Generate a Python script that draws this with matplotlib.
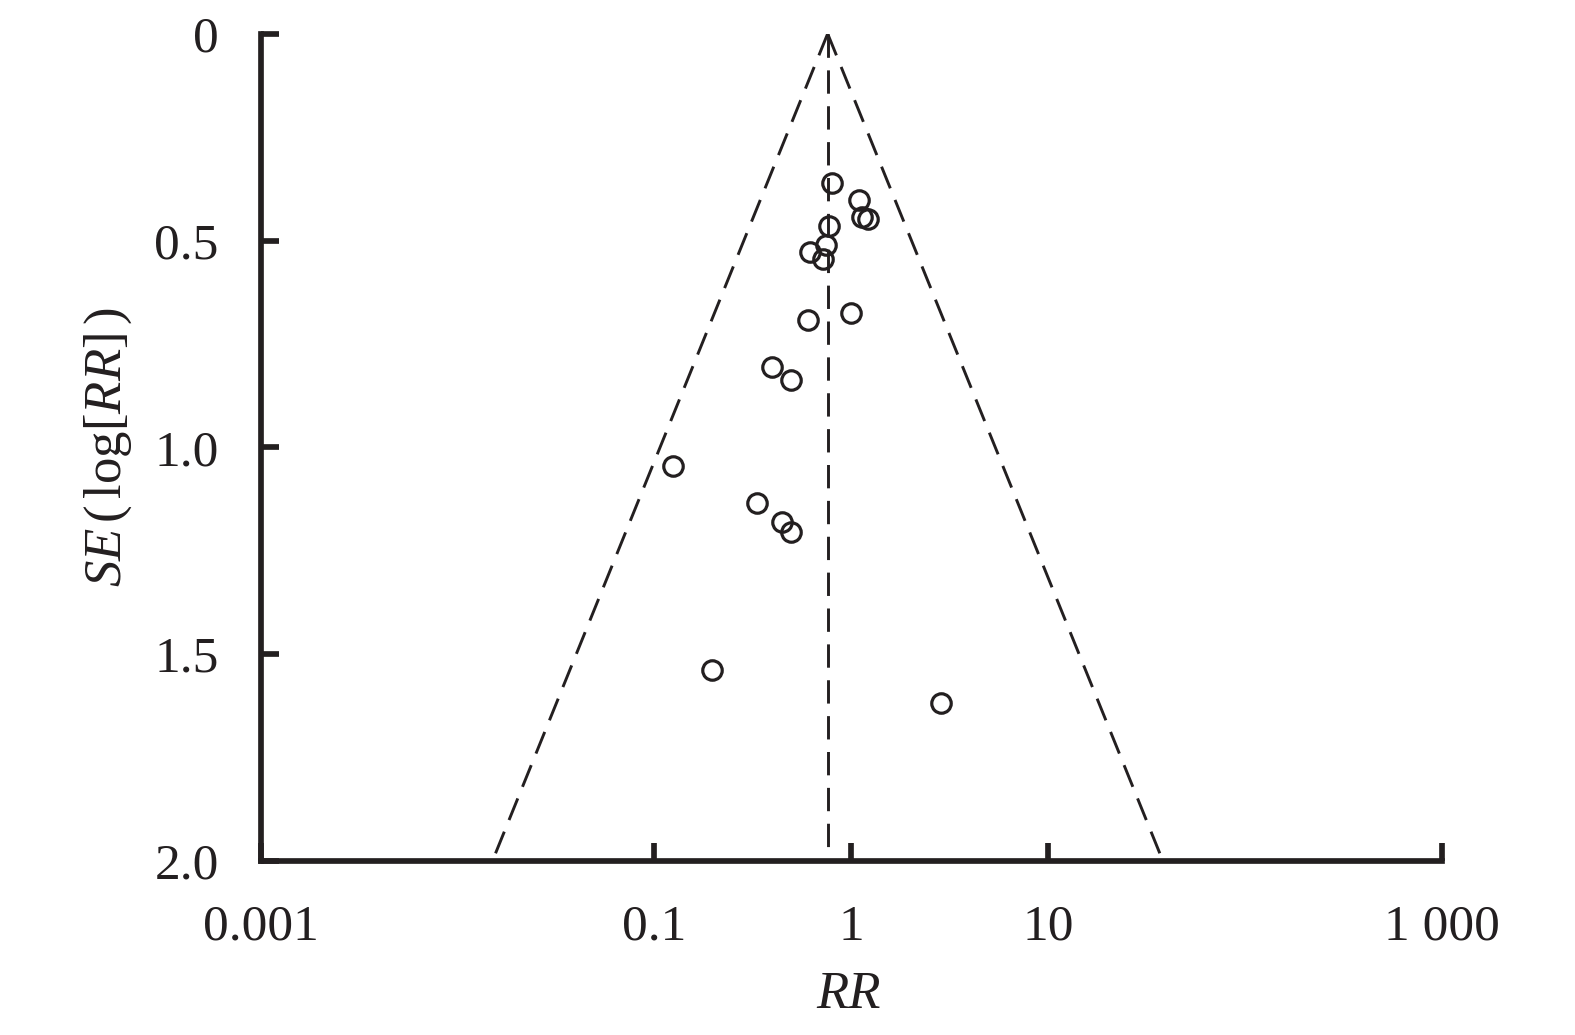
import numpy as np
import matplotlib
matplotlib.use("Agg")
import matplotlib.pyplot as plt

# ---- data ----
rr = [0.796, 1.098, 1.130, 1.220, 0.774, 0.745, 0.617, 0.721, 0.605, 0.994,
      0.394, 0.493, 0.125, 0.331, 0.447, 0.494, 0.196, 2.84]
se = [0.362, 0.402, 0.442, 0.449, 0.465, 0.511, 0.527, 0.545, 0.692, 0.676,
      0.805, 0.836, 1.044, 1.135, 1.180, 1.204, 1.538, 1.617]
pooled_rr = 0.759
z = 1.96
se_max = 2.0

xticks = [0.001, 0.1, 1, 10, 1000]
xticklabels = ["0.001", "0.1", "1", "10", "1 000"]
yticks = [0, 0.5, 1.0, 1.5, 2.0]
yticklabels = ["0", "0.5", "1.0", "1.5", "2.0"]

plt.rcParams['font.family'] = ['Liberation Serif', 'DejaVu Serif']
plt.rcParams['mathtext.fontset'] = 'custom'
plt.rcParams['mathtext.rm'] = 'Liberation Serif'
plt.rcParams['mathtext.it'] = 'Liberation Serif:italic'

fig = plt.figure(figsize=(15.75, 10.35), dpi=100)
ax = fig.add_axes([260.5/1575, 1-861/1035, 1181.5/1575, 827.3/1035])

ink = '#231f20'
dash = (0, (8, 4.3))

# funnel lines
se_line = np.array([0.0, se_max])
ax.plot(pooled_rr*np.exp(-z*se_line), se_line, color=ink, lw=2.1, ls=dash)
ax.plot(pooled_rr*np.exp(z*se_line), se_line, color=ink, lw=2.1, ls=dash)
ax.plot([pooled_rr, pooled_rr], [0, se_max], color=ink, lw=2.1, ls=dash)

# study points
ax.plot(rr, se, ls='none', marker='o', ms=14, mfc='none', mec=ink, mew=2.3)

ax.set_xscale('log')
ax.set_xlim(0.001, 1000)
ax.set_ylim(2.0, 0)
ax.set_xticks(xticks)
ax.set_xticklabels(xticklabels)
ax.xaxis.set_minor_locator(matplotlib.ticker.NullLocator())
ax.set_yticks(yticks)
ax.set_yticklabels(yticklabels)

for s in ['top', 'right']:
    ax.spines[s].set_visible(False)
for s in ['left', 'bottom']:
    ax.spines[s].set_linewidth(4.1)
    ax.spines[s].set_color(ink)
    ax.spines[s].set_capstyle('projecting')

ax.tick_params(axis='both', direction='in', length=13.3, width=4.1, color=ink,
               labelsize=37, labelcolor=ink)
ax.tick_params(axis='y', pad=30)
ax.tick_params(axis='x', pad=31)

ax.set_xlabel('RR', fontsize=38, style='italic', color=ink)
ax.xaxis.set_label_coords(0.4973, -0.162)
ax.xaxis.label.set_va('center')

ax.set_ylabel(r'$\mathit{SE}\,\mathrm{(\,log[}\mathit{RR}\mathrm{]\,)}$',
              fontsize=38, color=ink)
ax.yaxis.set_label_coords(-0.1287, 0.5)
ax.yaxis.label.set_va('center')

fig.savefig('out.png', dpi=100)
